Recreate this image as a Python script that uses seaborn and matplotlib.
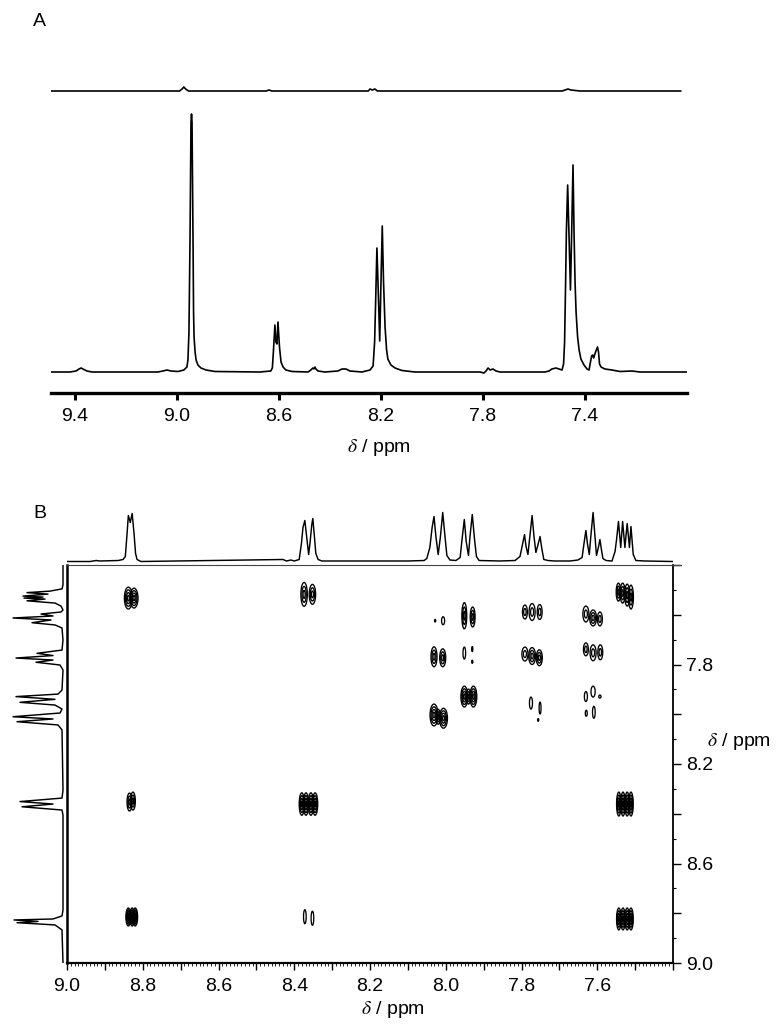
"""
Two panel NMR figure: 1D spectrum (A) and 2D COSY map with projections (B).
"""

import matplotlib
matplotlib.use("Agg")
import matplotlib.pyplot as plt
from matplotlib.patches import Ellipse
from matplotlib.ticker import FixedLocator, MultipleLocator
import pandas as pd
import seaborn as sns

# panel A, main spectrum
a_ppm = [9.494, 9.42, 9.396, 9.384, 9.376, 9.369, 9.353, 9.333, 9.184, 9.075, 9.055, 9.039, 9.024,
         8.996, 8.973, 8.961, 8.957, 8.953, 8.949, 8.945, 8.943, 8.941, 8.937, 8.935, 8.933, 8.929,
         8.925, 8.918, 8.906, 8.886, 8.851, 8.675, 8.632, 8.626, 8.622, 8.616, 8.612, 8.608, 8.604,
         8.598, 8.592, 8.584, 8.573, 8.549, 8.486, 8.475, 8.467, 8.463, 8.459, 8.455, 8.447, 8.42,
         8.369, 8.353, 8.337, 8.322, 8.275, 8.243, 8.231, 8.225, 8.221, 8.216, 8.21, 8.205, 8.2,
         8.195, 8.19, 8.184, 8.178, 8.173, 8.161, 8.145, 8.118, 8.067, 7.812, 7.796, 7.788, 7.78,
         7.772, 7.761, 7.749, 7.733, 7.557, 7.541, 7.53, 7.514, 7.502, 7.49, 7.484, 7.48, 7.476,
         7.473, 7.468, 7.462, 7.457, 7.453, 7.447, 7.443, 7.439, 7.435, 7.429, 7.423, 7.416, 7.404,
         7.392, 7.384, 7.38, 7.374, 7.37, 7.366, 7.36, 7.351, 7.347, 7.343, 7.337, 7.322, 7.294,
         7.263, 7.216, 7.184, 7.0]
a_int = [0, 0, 1, 3, 4, 3, 1, 0, 0, 0, 1, 2, 1,
         0.5, 2, 5, 12, 40, 130, 250, 258, 250, 130, 60, 35, 20,
         12, 7, 4, 2, 0.5, 0, 1, 4, 20, 47, 30, 28, 50,
         25, 10, 5, 2, 0.5, 0, 2, 4, 3, 5, 3, 1, 0,
         1, 3, 3, 1, 0, 2, 6, 30, 70, 124, 75, 31, 90,
         146, 90, 45, 22, 13, 7, 4, 1.5, 0, 0, -1, 1, 4,
         2, 3, 1, 0, 0, 1, 3, 4, 3, 2, 8, 30, 90,
         140, 187, 130, 82, 130, 207, 140, 90, 60, 35, 22, 13, 7,
         3, 2, 8, 16, 17, 14, 19, 25, 20, 8, 5, 3, 2,
         0.5, 1, 0, 0]

# panel A, difference trace above the spectrum
diff_ppm = [9.494, 8.99, 8.98, 8.973, 8.966, 8.955, 8.65, 8.639, 8.628, 8.25, 8.243, 8.234, 8.224,
            8.214, 7.53, 7.49, 7.478, 7.467, 7.455, 7.42, 7.024]
diff_int = [281, 281, 283, 285, 283, 281, 281, 282, 281, 281, 283, 282, 283,
            281, 281, 281, 282, 283, 282, 281, 281]

# panel B, projection above the map
top_ppm = [9.0, 8.939, 8.923, 8.913, 8.865, 8.852, 8.846, 8.842, 8.838, 8.833, 8.828, 8.823, 8.819,
           8.815, 8.805, 8.43, 8.42, 8.409, 8.4, 8.387, 8.381, 8.377, 8.372, 8.367, 8.362, 8.358,
           8.354, 8.351, 8.347, 8.343, 8.337, 8.327, 8.1, 8.057, 8.05, 8.042, 8.036, 8.031, 8.026,
           8.02, 8.014, 8.008, 8.002, 7.997, 7.989, 7.973, 7.962, 7.957, 7.951, 7.946, 7.94, 7.936,
           7.93, 7.924, 7.919, 7.912, 7.857, 7.817, 7.804, 7.799, 7.792, 7.788, 7.783, 7.778, 7.772,
           7.767, 7.762, 7.757, 7.751, 7.746, 7.741, 7.73, 7.712, 7.672, 7.651, 7.64, 7.635, 7.63,
           7.626, 7.621, 7.617, 7.611, 7.606, 7.602, 7.597, 7.593, 7.589, 7.585, 7.577, 7.561, 7.553,
           7.549, 7.544, 7.538, 7.533, 7.527, 7.521, 7.515, 7.511, 7.505, 7.498, 7.474, 7.4]
top_int = [0, 0, 1, 0.5, 1, 2, 5, 25, 46, 39, 48, 28, 8,
           2, 0, 2, 0.5, 1.5, 0.5, 2, 18, 34, 41, 24, 7, 20,
           36, 43, 26, 8, 2, 0.5, 0.5, 1, 3, 14, 34, 45, 25,
           7, 25, 49, 25, 6, 1.5, 1, 4, 22, 42, 20, 6, 25,
           47, 22, 5, 1, 0.5, 1, 5, 14, 27, 15, 7, 25, 46,
           25, 9, 16, 25, 12, 2, 1, 0.5, 0.5, 1.5, 4, 18, 31,
           18, 7, 25, 49, 25, 6, 14, 22, 12, 3, 1, 0.5, 10,
           22, 40, 14, 40, 14, 38, 14, 35, 7, 1, 0.5, 0]

# panel B, projection left of the map
left_ppm = [7.4, 7.48, 7.496, 7.505, 7.511, 7.517, 7.525, 7.529, 7.533, 7.537, 7.544, 7.553, 7.565,
            7.581, 7.589, 7.597, 7.605, 7.613, 7.621, 7.632, 7.641, 7.653, 7.702, 7.742, 7.755, 7.764,
            7.774, 7.782, 7.791, 7.802, 7.822, 7.903, 7.919, 7.929, 7.94, 7.952, 7.963, 7.979, 7.995,
            8.01, 8.019, 8.03, 8.043, 8.063, 8.305, 8.337, 8.351, 8.361, 8.372, 8.385, 8.405, 8.787,
            8.811, 8.823, 8.827, 8.833, 8.838, 8.847, 8.867, 9.0]
left_int = [0, 0, 1, 13, 36, 15, 40, 20, 39, 18, 36, 8, 2,
            0, 2, 22, 10, 50, 12, 31, 8, 1, 0, 1, 26, 10,
            47, 10, 27, 3, 0, 1, 5, 47, 8, 43, 8, 1, 3,
            50, 10, 46, 5, 1, 0, 1, 43, 10, 41, 1, 0, 0,
            1, 10, 49, 25, 46, 8, 1, 0]

# cross peaks: centre and full extent in ppm, number of contour rings
peak_f2 = [8.838, 8.823, 8.374, 8.352, 7.544, 7.533, 7.521, 7.511,
           8.028, 8.007, 7.951, 7.929, 7.791, 7.772, 7.752, 7.63, 7.611, 7.593,
           8.031, 8.008, 7.951, 7.93, 7.93, 7.791, 7.772, 7.753, 7.63, 7.611, 7.592,
           7.951, 7.94, 7.927, 7.775, 7.751, 7.756, 7.63, 7.611, 7.593,
           8.031, 8.02, 8.006, 7.629, 7.609,
           8.835, 8.826, 8.38, 8.369, 8.356, 8.345, 7.543, 7.532, 7.521, 7.511,
           8.838, 8.828, 8.82, 8.372, 8.352, 7.543, 7.532, 7.521, 7.511]
peak_f1 = [7.533, 7.533, 7.518, 7.518, 7.509, 7.513, 7.521, 7.529,
           7.624, 7.624, 7.604, 7.609, 7.589, 7.589, 7.589, 7.597, 7.613, 7.617,
           7.769, 7.773, 7.754, 7.738, 7.789, 7.758, 7.766, 7.773, 7.739, 7.753, 7.751,
           7.929, 7.929, 7.929, 7.955, 7.975, 8.023, 7.929, 7.909, 7.929,
           8.003, 8.01, 8.016, 7.996, 7.992,
           8.353, 8.349, 8.361, 8.361, 8.361, 8.361, 8.361, 8.361, 8.361, 8.361,
           8.815, 8.815, 8.815, 8.814, 8.82, 8.823, 8.823, 8.823, 8.823]
peak_w = [0.021, 0.021, 0.017, 0.017, 0.012, 0.013, 0.013, 0.013,
          0.003, 0.008, 0.013, 0.013, 0.013, 0.016, 0.013, 0.016, 0.018, 0.013,
          0.016, 0.016, 0.007, 0.003, 0.003, 0.016, 0.018, 0.016, 0.013, 0.016, 0.013,
          0.018, 0.012, 0.018, 0.008, 0.005, 0.003, 0.008, 0.011, 0.006,
          0.021, 0.012, 0.021, 0.005, 0.007,
          0.013, 0.013, 0.014, 0.014, 0.014, 0.014, 0.012, 0.012, 0.012, 0.012,
          0.013, 0.013, 0.013, 0.007, 0.007, 0.012, 0.012, 0.012, 0.012]
peak_h = [0.088, 0.08, 0.096, 0.08, 0.072, 0.08, 0.088, 0.096,
          0.01, 0.032, 0.105, 0.08, 0.056, 0.068, 0.06, 0.064, 0.064, 0.056,
          0.08, 0.072, 0.048, 0.02, 0.012, 0.056, 0.068, 0.064, 0.052, 0.064, 0.06,
          0.084, 0.06, 0.084, 0.048, 0.048, 0.01, 0.04, 0.044, 0.012,
          0.088, 0.06, 0.08, 0.024, 0.048,
          0.072, 0.072, 0.09, 0.09, 0.09, 0.09, 0.096, 0.096, 0.096, 0.096,
          0.072, 0.072, 0.072, 0.056, 0.056, 0.088, 0.088, 0.088, 0.088]
peak_rings = [4, 4, 3, 3, 3, 3, 3, 3,
              1, 1, 3, 3, 2, 2, 2, 2, 3, 2,
              3, 3, 1, 1, 1, 2, 3, 3, 2, 2, 2,
              4, 3, 4, 1, 1, 1, 1, 1, 1,
              4, 3, 4, 1, 1,
              3, 3, 4, 4, 4, 4, 4, 4, 4, 4,
              5, 5, 5, 1, 1, 4, 4, 4, 4]

a_ticks = [9.4, 9.0, 8.6, 8.2, 7.8, 7.4]
b_x_ticks = [9.0, 8.9, 8.8, 8.7, 8.6, 8.5, 8.4, 8.3, 8.2, 8.1, 8.0, 7.9, 7.8, 7.7, 7.6, 7.5, 7.4]
b_x_labels = ["9.0", "", "8.8", "", "8.6", "", "8.4", "", "8.2", "", "8.0", "", "7.8", "", "7.6", "", ""]
b_y_ticks = [7.4, 7.6, 7.8, 8.0, 8.2, 8.4, 8.6, 8.8, 9.0]
b_y_labels = ["", "", "7.8", "", "8.2", "", "8.6", "", "9.0"]

AXIS_LABEL = r"$\delta$ / ppm"
W, H = 782, 1032


def axes_px(fig, left, top, right, bottom):
    """
    Add axes from pixel edges, measured from the top left corner.
    """
    return fig.add_axes([left / W, 1 - bottom / H, (right - left) / W, (bottom - top) / H])


def fig_text(fig, x, y, text, ha="center"):
    fig.text(x / W, 1 - y / H, text, ha=ha, va="center", fontsize=14, color="black")


def trace(ax, x, y, width=1.2):
    sns.lineplot(data=pd.DataFrame({"x": x, "y": y}), x="x", y="y", sort=False, estimator=None,
                 color="black", linewidth=width, ax=ax)
    ax.set_xlabel("")
    ax.set_ylabel("")


def panel_a(fig):
    ax = axes_px(fig, 51, 85, 687, 393)
    trace(ax, a_ppm, a_int)
    trace(ax, diff_ppm, diff_int)
    ax.set_xlim(9.494, 7.0)
    ax.set_ylim(-21, 287)
    ax.set_yticks([])
    ax.set_xticks(a_ticks)
    ax.set_xticklabels([f"{t:.1f}" for t in a_ticks])
    sns.despine(ax=ax, left=True)
    ax.spines["bottom"].set_linewidth(2.4)
    ax.tick_params(axis="x", bottom=True, length=5, width=2.2, pad=6, labelsize=14)


def panel_b(fig):
    ax = axes_px(fig, 67, 565, 673, 963)

    for x, y, w, h, rings in zip(peak_f2, peak_f1, peak_w, peak_h, peak_rings):
        for i in range(rings):
            scale = 1 - i / rings
            ax.add_patch(Ellipse((x, y), w * scale, h * scale, fill=False, edgecolor="black", linewidth=0.95))

    ax.set_xlim(9.0, 7.4)
    ax.set_ylim(9.0, 7.4)
    ax.xaxis.set_major_locator(FixedLocator(b_x_ticks))
    ax.set_xticklabels(b_x_labels)
    ax.xaxis.set_minor_locator(MultipleLocator(0.01))
    ax.yaxis.tick_right()
    ax.yaxis.set_major_locator(FixedLocator(b_y_ticks))
    ax.set_yticklabels(b_y_labels)
    ax.yaxis.set_minor_locator(MultipleLocator(0.1))
    ax.tick_params(axis="x", which="major", bottom=True, length=5, width=1.0, pad=6, labelsize=14)
    ax.tick_params(axis="x", which="minor", bottom=True, length=2, width=0.6)
    ax.tick_params(axis="y", which="major", right=True, left=False, length=6, width=1.0, pad=3.5, labelsize=14)
    ax.tick_params(axis="y", which="minor", right=True, left=False, length=2.2, width=0.8)
    ax.spines["left"].set_linewidth(1.8)
    ax.spines["bottom"].set_linewidth(1.6)
    ax.spines["right"].set_linewidth(1.3)
    ax.spines["top"].set_linewidth(0.8)
    ax.spines["top"].set_color("#444444")
    ax.plot([7.4, 7.379], [7.4, 7.4], color="#444444", linewidth=0.8, clip_on=False)

    top = axes_px(fig, 67, 505, 673, 565)
    trace(top, top_ppm, top_int, 1.05)
    top.set_xlim(9.0, 7.4)
    top.set_ylim(-3.5, 56.5)
    top.axis("off")

    left = axes_px(fig, 10, 565, 66, 963)
    trace(left, left_int, left_ppm, 1.05)
    left.set_xlim(53, -3)
    left.set_ylim(9.0, 7.4)
    left.axis("off")


if __name__ == "__main__":

    sns.set_theme(style="white", rc={"axes.edgecolor": "black", "xtick.color": "black", "ytick.color": "black"})
    plt.rcParams["font.family"] = ["Liberation Sans", "DejaVu Sans"]
    plt.rcParams["mathtext.fontset"] = "stix"

    fig = plt.figure(figsize=(W / 100, H / 100), dpi=100)

    panel_a(fig)
    panel_b(fig)

    fig_text(fig, 33, 21, "A", ha="left")
    fig_text(fig, 33, 514, "B", ha="left")
    fig_text(fig, 379, 448, AXIS_LABEL)
    fig_text(fig, 393, 1010, AXIS_LABEL)
    fig_text(fig, 739, 742, AXIS_LABEL)

    fig.savefig("out.png", dpi=100)
